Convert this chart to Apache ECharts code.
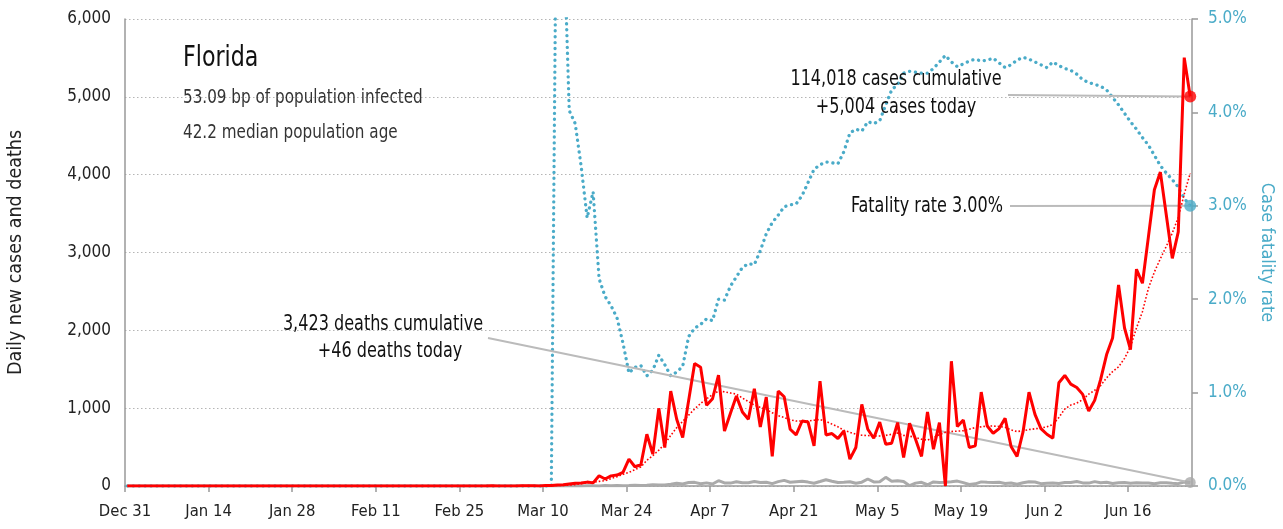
<!DOCTYPE html>
<html><head><meta charset="utf-8">
<script src="https://cdn.jsdelivr.net/npm/echarts@6/dist/echarts.min.js"></script>
<style>html,body{margin:0;padding:0;background:#fff}#c{width:1283px;height:529px}</style>
</head><body><div id="c"></div>
<script>
const FONT = "'Liberation Sans Narrow','DejaVu Sans Condensed','Roboto Condensed','Arial Narrow',sans-serif";
const RED = '#ff0000', TEAL = '#4aabc8', GRAY = '#aaaaaa', AXIS = '#999999';

// x tick labels, one every 14 days starting Dec 31
const tickLabels = ['Dec 31','Jan 14','Jan 28','Feb 11','Feb 25','Mar 10','Mar 24','Apr 7','Apr 21','May 5','May 19','Jun 2','Jun 16'];

// daily values, day 0 = Dec 31 ... day 178 = Jun 26
const dailyCases = [
 0,0,0,0,0,0,0,0,0,0,
 0,0,0,0,0,0,0,0,0,0,
 0,0,0,0,0,0,0,0,0,0,
 0,0,0,0,0,0,0,0,0,0,
 0,0,0,0,0,0,0,0,0,0,
 0,0,0,0,0,0,0,0,0,0,
 0,2,0,1,0,1,3,4,3,1,
 7,8,12,15,25,35,38,50,40,132,
 90,130,140,175,345,247,273,665,409,998,
 495,1219,857,623,1100,1573,1526,1036,1121,1424,
 707,934,1155,950,857,1250,759,1142,380,1219,
 1147,729,656,835,822,516,1347,656,674,610,
 707,345,495,1049,729,614,822,537,550,815,
 367,806,601,380,950,473,815,0,1603,764,
 848,495,516,1206,771,678,738,870,508,380,
 695,1206,921,738,665,614,1326,1420,1309,1266,
 1177,963,1100,1369,1688,1902,2584,2030,1752,2785,
 2605,3201,3807,4033,3479,2925,3265,5504,5004
];
const casesAvg7 = [
 0,0,0,0,0,0,0,0,0,0,
 0,0,0,0,0,0,0,0,0,0,
 0,0,0,0,0,0,0,0,0,0,
 0,0,0,0,0,0,0,0,0,0,
 0,0,0,0,0,0,0,0,0,0,
 0,0,0,0,0,0,0,0,0,0,
 0,0,0,0,1,1,1,2,2,2,
 3,4,6,8,12,18,30,40,50,60,
 68,95,120,150,175,210,245,330,390,460,
 540,650,750,830,910,990,1060,1120,1175,1219,
 1210,1195,1180,1130,1085,1040,1010,985,940,905,
 880,850,835,835,835,845,855,830,795,760,
 715,690,665,652,648,643,643,650,665,680,
 650,640,625,600,590,620,660,690,700,705,
 710,730,750,760,770,770,765,755,720,700,
 710,725,735,745,760,790,880,990,1040,1065,
 1110,1180,1230,1290,1390,1470,1530,1640,1790,2030,
 2240,2540,2750,2920,3080,3250,3450,3750,4020
];
const dailyDeaths = [
 0,0,0,0,0,0,0,0,0,0,
 0,0,0,0,0,0,0,0,0,0,
 0,0,0,0,0,0,0,0,0,0,
 0,0,0,0,0,0,0,0,0,0,
 0,0,0,0,0,0,0,0,0,0,
 0,0,0,0,0,0,0,0,0,0,
 0,0,0,0,0,0,0,0,0,0,
 0,0,2,0,1,3,0,2,3,1,
 5,4,6,3,5,10,8,9,16,12,
 14,22,34,26,44,47,30,40,26,68,
 39,37,55,43,42,58,44,49,31,56,
 72,48,54,60,50,36,58,81,62,44,
 47,55,36,49,90,52,55,111,60,68,
 57,4,37,47,16,52,46,48,54,63,
 43,20,28,53,48,46,47,33,39,23,
 41,55,51,30,35,38,32,45,44,57,
 40,37,56,42,47,32,43,44,35,41,
 37,39,29,41,43,34,30,52,46
];
// case fatality rate, percent
const fatalityRate = [
 0,0,0,0,0,0,0,0,0,0,
 0,0,0,0,0,0,0,0,0,0,
 0,0,0,0,0,0,0,0,0,0,
 0,0,0,0,0,0,0,0,0,0,
 0,0,0,0,0,0,0,0,0,0,
 0,0,0,0,0,0,0,0,0,0,
 0,0,0,0,0,0,0,0,0,0,
 0,0,7.5,6.1,4.02,3.88,3.42,2.87,3.15,2.22,
 2.03,1.93,1.80,1.53,1.21,1.27,1.29,1.18,1.24,1.40,
 1.30,1.18,1.22,1.28,1.60,1.69,1.73,1.79,1.77,2.00,
 1.99,2.14,2.24,2.34,2.38,2.37,2.52,2.70,2.82,2.90,
 2.99,3.01,3.02,3.11,3.25,3.39,3.44,3.47,3.46,3.45,
 3.58,3.78,3.82,3.80,3.90,3.88,3.91,4.08,4.24,4.30,
 4.42,4.44,4.43,4.42,4.42,4.47,4.54,4.61,4.54,4.49,
 4.52,4.55,4.57,4.55,4.56,4.58,4.53,4.48,4.51,4.56,
 4.59,4.57,4.54,4.51,4.48,4.54,4.50,4.47,4.45,4.41,
 4.35,4.32,4.30,4.28,4.24,4.16,4.08,3.99,3.90,3.82,
 3.73,3.65,3.54,3.43,3.35,3.28,3.20,3.08,3.00
];

const titleText = 'Florida';
const infoLines = ['53.09 bp of population infected', '42.2 median population age'];
const casesNote = ['114,018 cases cumulative', '+5,004 cases today'];
const deathsNote = ['3,423 deaths cumulative', '+46 deaths today'];
const fatalityNote = 'Fatality rate 3.00%';

const REPORT_OFFSET = 0.4;   // reporting time within the day
const X_MAX = 178.7;

const toXY = arr => arr.map((v, i) => [i + REPORT_OFFSET, v]);
const last = arr => [[arr.length - 1 + REPORT_OFFSET, arr[arr.length - 1]]];

const chart = echarts.init(document.getElementById('c'), null, {renderer: 'canvas'});

chart.setOption({
  animation: false,
  backgroundColor: '#fff',
  grid: {left: 125, right: 91, top: 19, bottom: 43, containLabel: false, outerBoundsMode: 'none'},
  xAxis: {
    type: 'value', min: 0, max: X_MAX, interval: 14,
    axisLine: {show: true, onZero: false, lineStyle: {color: AXIS, width: 1.5}},
    axisTick: {show: true, length: 6, lineStyle: {color: AXIS, width: 1.5}},
    splitLine: {show: false},
    axisLabel: {fontFamily: FONT, fontSize: 16.5, color: '#222', margin: 17, showMaxLabel: false,
      formatter: v => (Math.abs(v % 14) < 1e-6 ? (tickLabels[Math.round(v / 14)] || '') : '')}
  },
  yAxis: [{
    type: 'value', min: 0, max: 6000, interval: 1000,
    name: 'Daily new cases and deaths', nameLocation: 'middle', nameGap: 99,
    nameTextStyle: {fontFamily: FONT, fontSize: 19.5, color: '#222'},
    axisLine: {show: true, lineStyle: {color: AXIS, width: 1.5}},
    axisTick: {show: false},
    splitLine: {show: true, lineStyle: {color: '#b5b5b5', width: 1, type: [1.5, 2.5]}},
    axisLabel: {fontFamily: FONT, fontSize: 17, color: '#222', margin: 14, formatter: v => v.toLocaleString('en-US')}
  }, {
    type: 'value', min: 0, max: 5, interval: 1, position: 'right',
    name: 'Case fatality rate', nameLocation: 'middle', nameGap: 66, nameRotate: -90,
    nameTextStyle: {fontFamily: FONT, fontSize: 18, color: TEAL},
    axisLine: {show: true, lineStyle: {color: AXIS, width: 1.5}},
    axisTick: {show: true, length: 6, lineStyle: {color: AXIS, width: 1.5}},
    splitLine: {show: false},
    axisLabel: {fontFamily: FONT, fontSize: 17, color: TEAL, margin: 16, formatter: v => v.toFixed(1) + '%'}
  }],
  series: [
    {type: 'line', name: 'fatality', yAxisIndex: 1, data: toXY(fatalityRate), symbol: 'none', clip: true,
     lineStyle: {color: TEAL, width: 3.3, type: [0.1, 5.8], cap: 'round'}, z: 2},
    {type: 'line', name: 'deaths', data: toXY(dailyDeaths), symbol: 'none',
     lineStyle: {color: GRAY, width: 3}, z: 3},
    {type: 'line', name: 'avg', data: toXY(casesAvg7), symbol: 'none',
     lineStyle: {color: RED, width: 1.6, type: [1.6, 2]}, z: 4},
    {type: 'line', name: 'cases', data: toXY(dailyCases), symbol: 'none',
     lineStyle: {color: RED, width: 3}, z: 5},
    {type: 'scatter', data: last(dailyDeaths), symbolSize: 11, itemStyle: {color: GRAY}, z: 6},
    {type: 'scatter', data: last(dailyCases), symbolSize: 12, itemStyle: {color: RED}, z: 6},
    {type: 'scatter', yAxisIndex: 1, data: last(fatalityRate), symbolSize: 12, itemStyle: {color: TEAL}, z: 6}
  ]
});

const pCases = chart.convertToPixel({seriesIndex: 5}, last(dailyCases)[0]);
const pFat = chart.convertToPixel({seriesIndex: 6}, last(fatalityRate)[0]);
const pDeaths = chart.convertToPixel({seriesIndex: 4}, last(dailyDeaths)[0]);

const txt = (text, x, y, size, color, align, sx) => ({
  type: 'text', x: x, y: y, scaleX: sx, silent: true, z: 20,
  style: {text: text, fontFamily: FONT, fontSize: size, fill: color,
          textAlign: align, textVerticalAlign: 'middle', align: align, verticalAlign: 'middle'}
});
const leader = (x1, y1, p) => ({
  type: 'line', silent: true, z: 4,
  shape: {x1: x1, y1: y1, x2: p[0], y2: p[1]},
  style: {stroke: '#bbbbbb', lineWidth: 2}
});

chart.setOption({
  graphic: [
    leader(1008, 95, pCases),
    leader(1010, 206, pFat),
    leader(488, 338, pDeaths),
    txt(titleText, 183, 58, 29, '#111', 'left', 0.85),
    txt(infoLines[0], 183, 98, 19, '#333', 'left', 0.89),
    txt(infoLines[1], 183, 133, 19, '#333', 'left', 0.89),
    txt(casesNote[0], 896, 80, 21, '#111', 'center', 0.85),
    txt(casesNote[1], 896, 108, 21, '#111', 'center', 0.85),
    txt(fatalityNote, 1003, 207, 21, '#111', 'right', 0.85),
    txt(deathsNote[0], 383, 325, 21, '#111', 'center', 0.85),
    txt(deathsNote[1], 390, 352, 21, '#111', 'center', 0.85)
  ]
});
</script></body></html>
